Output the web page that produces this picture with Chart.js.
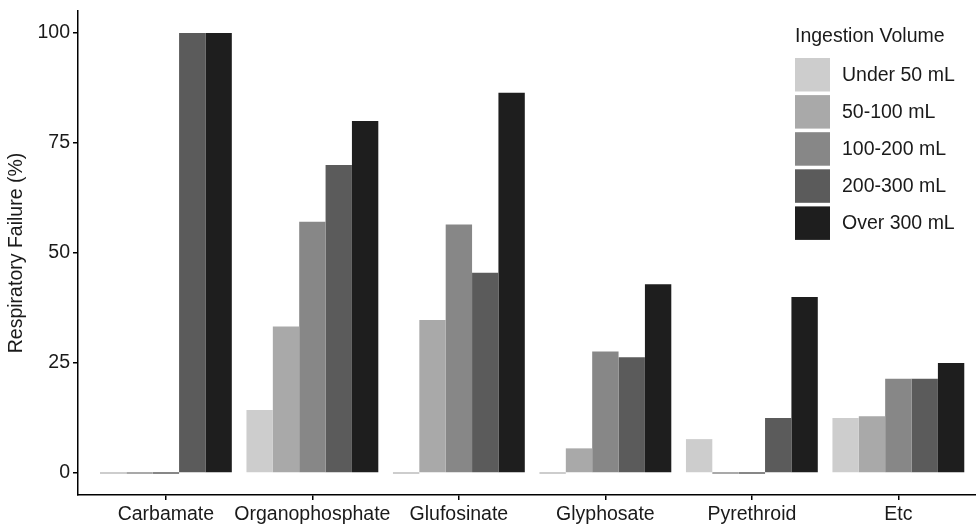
<!DOCTYPE html>
<html>
<head>
<meta charset="utf-8">
<script src="https://cdn.jsdelivr.net/npm/chart.js@4.4.1/dist/chart.umd.min.js"></script>
<style>
  html, body { margin: 0; padding: 0; background: #ffffff; }
  #wrap { width: 976px; height: 528px; position: relative; }
</style>
</head>
<body>
<div id="wrap"><canvas id="c" width="976" height="528"></canvas></div>
<script>
const categories = ['Carbamate', 'Organophosphate', 'Glufosinate', 'Glyphosate', 'Pyrethroid', 'Etc'];
const seriesNames = ['Under 50 mL', '50-100 mL', '100-200 mL', '200-300 mL', 'Over 300 mL'];
const under50 = [0, 14.3, 0, 0, 7.7, 12.5];
const ml50to100 = [0, 33.3, 34.8, 5.6, 0, 12.9];
const ml100to200 = [0, 57.1, 56.5, 27.6, 0, 21.4];
const ml200to300 = [100, 70, 45.5, 26.3, 12.5, 21.4];
const over300 = [100, 80, 86.4, 42.9, 40, 25];
const yTicks = [0, 25, 50, 75, 100];
const seriesColors = ['#cdcdcd', '#a9a9a9', '#878787', '#5b5b5b', '#1e1e1e'];

const seriesValues = [under50, ml50to100, ml100to200, ml200to300, over300];
const FONT = 'Liberation Sans, Arial, Helvetica, sans-serif';
const FSIZE = 19.5;
const TXT = '#1a1a1a';

const datasets = seriesValues.map((vals, s) => ({
  label: seriesNames[s],
  data: vals.map((v, i) => ({ x: i, y: v })),
  backgroundColor: seriesColors[s],
  borderWidth: 0,
  minBarLength: 2,
  categoryPercentage: 0.9,
  barPercentage: 1.0
}));

const legendPlugin = {
  id: 'customLegend',
  afterDraw(chart) {
    const ctx = chart.ctx;
    ctx.save();
    ctx.font = FSIZE + 'px ' + FONT;
    ctx.fillStyle = TXT;
    ctx.textAlign = 'left';
    ctx.textBaseline = 'alphabetic';
    ctx.fillText('Ingestion Volume', 795, 42);
    chart.data.datasets.forEach((ds, i) => {
      const y = 58 + i * 37.1;
      ctx.fillStyle = ds.backgroundColor;
      ctx.fillRect(795, y, 35, 33.5);
      ctx.fillStyle = TXT;
      ctx.textBaseline = 'middle';
      ctx.fillText(ds.label, 842, y + 17.5);
    });
    ctx.restore();
  }
};

new Chart(document.getElementById('c'), {
  type: 'bar',
  data: { datasets },
  options: {
    responsive: false,
    animation: false,
    layout: { padding: { top: 11, right: 0, left: 0, bottom: 0 } },
    plugins: {
      legend: { display: false },
      tooltip: { enabled: false },
      title: { display: false }
    },
    scales: {
      x: {
        type: 'linear',
        offset: false,
        min: -0.6,
        max: 5.53,
        afterBuildTicks: s => { s.ticks = categories.map((c, i) => ({ value: i })); },
        afterFit: s => { s.height = 33; s.paddingLeft = 0; s.paddingRight = 0; },
        ticks: {
          callback: (v) => categories[v] !== undefined ? categories[v] : '',
          autoSkip: false,
          maxRotation: 0,
          color: TXT,
          padding: 3,
          font: { family: FONT, size: FSIZE }
        },
        grid: { offset: false, drawOnChartArea: false, drawTicks: true, tickLength: 5, color: '#000', lineWidth: 1.5 },
        border: { display: true, color: '#000', width: 1.5 }
      },
      y: {
        min: -5,
        max: 105,
        afterBuildTicks: s => { s.ticks = yTicks.map(v => ({ value: v })); },
        afterFit: s => { s.width = 78; s.paddingTop = 0; s.paddingBottom = 0; },
        ticks: {
          color: TXT,
          padding: 3,
          font: { family: FONT, size: FSIZE }
        },
        grid: { drawOnChartArea: false, drawTicks: true, tickLength: 5, color: '#000', lineWidth: 1.5 },
        border: { display: true, color: '#000', width: 1.5 },
        title: {
          display: true,
          text: 'Respiratory Failure (%)',
          color: TXT,
          padding: { top: 5, bottom: 0 },
          font: { family: FONT, size: FSIZE }
        }
      }
    }
  },
  plugins: [legendPlugin]
});
</script>
</body>
</html>
